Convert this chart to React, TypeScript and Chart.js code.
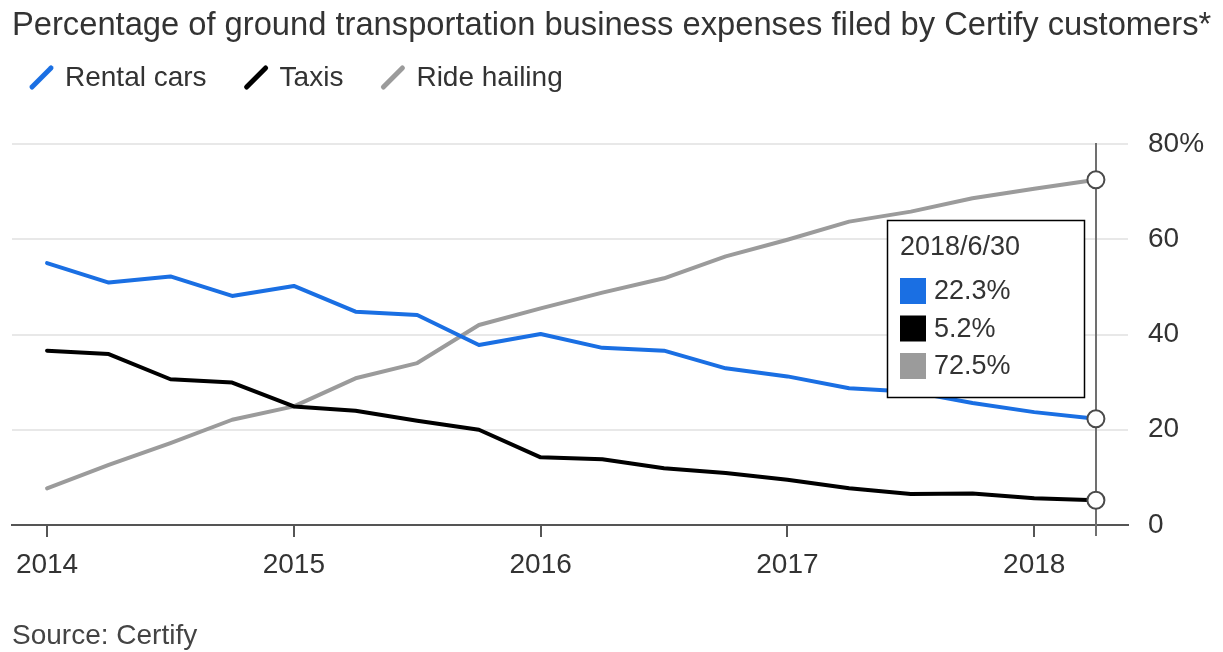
import React, { useEffect, useRef } from 'react';
import { Chart, registerables } from 'chart.js';

Chart.register(...registerables);

// ---------- data ----------
const TITLE = 'Percentage of ground transportation business expenses filed by Certify customers*';
const SOURCE = 'Source: Certify';
const SERIES_NAMES = ['Rental cars', 'Taxis', 'Ride hailing'];
// quarterly observations, expressed as decimal years
const X_VALUES = [
  2014, 2014.25, 2014.5, 2014.75,
  2015, 2015.25, 2015.5, 2015.75,
  2016, 2016.25, 2016.5, 2016.75,
  2017, 2017.25, 2017.5, 2017.75,
  2018, 2018.25,
];
const RENTAL_CARS = [55.0, 50.9, 52.2, 48.1, 50.2, 44.8, 44.1, 37.8, 40.1, 37.2, 36.6, 32.9, 31.2, 28.7, 28.0, 25.6, 23.7, 22.3];
const TAXIS = [36.6, 35.9, 30.6, 29.9, 24.9, 24.0, 21.9, 20.0, 14.2, 13.8, 11.9, 10.9, 9.5, 7.7, 6.5, 6.6, 5.6, 5.2];
const RIDE_HAILING = [7.7, 12.6, 17.2, 22.1, 24.9, 30.8, 34.0, 42.0, 45.5, 48.8, 51.8, 56.4, 59.9, 63.7, 65.8, 68.6, 70.6, 72.5];
const YEAR_TICKS = [2014, 2015, 2016, 2017, 2018];
const Y_TICKS = [0, 20, 40, 60, 80];
const TOOLTIP_DATE = '2018/6/30';

// ---------- styles ----------
const COLORS = ['#1a6fe3', '#000000', '#9b9b9b'];
const FONT = '"Liberation Sans", Arial, sans-serif';
const TEXT = '#333333';

const overlayPlugin = {
  id: 'overlay',
  beforeDatasetsDraw(chart: any) {
    const { ctx, chartArea, scales } = chart;
    const x = Math.round(scales.x.getPixelForValue(X_VALUES[X_VALUES.length - 1]));
    ctx.save();
    ctx.strokeStyle = '#707070';
    ctx.lineWidth = 2;
    ctx.beginPath();
    ctx.moveTo(x, chartArea.top - 1);
    ctx.lineTo(x, chartArea.bottom + 11);
    ctx.stroke();
    ctx.restore();
  },
  afterDatasetsDraw(chart: any) {
    const { ctx, chartArea, scales } = chart;
    const last = X_VALUES.length - 1;
    const cx = scales.x.getPixelForValue(X_VALUES[last]);
    // tooltip box
    const w = 197;
    const h = 177;
    const right = Math.round(cx - 12);
    const left = right - w;
    const top = Math.round(chartArea.top + 76);
    ctx.save();
    ctx.fillStyle = '#ffffff';
    ctx.fillRect(left, top, w, h);
    ctx.strokeStyle = '#000000';
    ctx.lineWidth = 1.5;
    ctx.strokeRect(left + 0.5, top + 0.5, w, h);
    ctx.fillStyle = TEXT;
    ctx.font = `27px ${FONT}`;
    ctx.textBaseline = 'middle';
    ctx.textAlign = 'left';
    ctx.fillText(TOOLTIP_DATE, left + 13, top + 28);
    const vals = [RENTAL_CARS[last], TAXIS[last], RIDE_HAILING[last]];
    vals.forEach((v, i) => {
      const rowTop = top + 58 + i * 37.5;
      ctx.fillStyle = COLORS[i];
      ctx.fillRect(left + 13, rowTop, 26, 26);
      ctx.fillStyle = TEXT;
      ctx.fillText(v.toFixed(1) + '%', left + 47, rowTop + 14);
    });
    ctx.restore();
  },
  afterDraw(chart: any) {
    const { ctx } = chart;
    ctx.save();
    // title
    ctx.fillStyle = TEXT;
    ctx.font = `32.7px ${FONT}`;
    ctx.textBaseline = 'alphabetic';
    ctx.textAlign = 'left';
    ctx.fillText(TITLE, 12, 35);
    // legend
    ctx.font = `28px ${FONT}`;
    let x = 30;
    SERIES_NAMES.forEach((name, i) => {
      ctx.strokeStyle = COLORS[i];
      ctx.lineWidth = 5;
      ctx.lineCap = 'round';
      ctx.beginPath();
      ctx.moveTo(x + 2, 87);
      ctx.lineTo(x + 21, 68);
      ctx.stroke();
      ctx.fillStyle = TEXT;
      ctx.fillText(name, x + 35, 86);
      x = x + 35 + ctx.measureText(name).width + 38;
    });
    // source
    ctx.fillStyle = '#444444';
    ctx.font = `28px ${FONT}`;
    ctx.fillText(SOURCE, 12, 644);
    ctx.restore();
  },
};

export default function App() {
  const ref = useRef<HTMLCanvasElement | null>(null);

  useEffect(() => {
    if (!ref.current) return;
    const last = X_VALUES.length - 1;
    const series = [RENTAL_CARS, TAXIS, RIDE_HAILING];
    const chart = new Chart(ref.current, {
      type: 'line',
      data: {
        datasets: series.map((s, i) => ({
          label: SERIES_NAMES[i],
          data: X_VALUES.map((xv, j) => ({ x: xv, y: s[j] })),
          borderColor: COLORS[i],
          backgroundColor: COLORS[i],
          borderWidth: 4,
          borderJoinStyle: 'round',
          borderCapStyle: 'round',
          tension: 0,
          pointRadius: (c: any) => (c.dataIndex === last ? 8.5 : 0),
          pointHoverRadius: (c: any) => (c.dataIndex === last ? 8.5 : 0),
          pointBackgroundColor: '#ffffff',
          pointBorderColor: '#4a4a4a',
          pointBorderWidth: 2,
        })),
      },
      options: {
        animation: false,
        responsive: false,
        maintainAspectRatio: false,
        devicePixelRatio: 1,
        events: [],
        layout: { padding: { top: 144, left: 12, right: 0, bottom: 0 } },
        plugins: {
          legend: { display: false },
          tooltip: { enabled: false },
          title: { display: false },
        },
        scales: {
          x: {
            type: 'linear',
            min: 2013.858,
            max: 2018.38,
            afterBuildTicks: (s: any) => {
              s.ticks = YEAR_TICKS.map((v) => ({ value: v }));
            },
            afterFit: (s: any) => {
              s.height = 127;
            },
            ticks: {
              autoSkip: false,
              maxRotation: 0,
              padding: 11,
              color: TEXT,
              font: { family: FONT, size: 28 },
              callback: (v: any) => String(v),
            },
            grid: {
              display: true,
              drawOnChartArea: false,
              drawTicks: true,
              tickLength: 12,
              color: '#555555',
              lineWidth: 2,
            },
            border: { display: true, color: '#555555', width: 2 },
          },
          y: {
            position: 'right',
            min: 0,
            max: 80,
            afterBuildTicks: (s: any) => {
              s.ticks = Y_TICKS.map((v) => ({ value: v }));
            },
            afterFit: (s: any) => {
              s.width = 95;
            },
            ticks: {
              padding: 20,
              color: TEXT,
              font: { family: FONT, size: 28 },
              callback: (v: any) => (v === 80 ? '80%' : String(v)),
            },
            grid: {
              drawTicks: false,
              color: (c: any) => (c.tick && c.tick.value === 0 ? 'rgba(0,0,0,0)' : '#e8e8e8'),
              lineWidth: 2,
            },
            border: { display: false },
          },
        },
      },
      plugins: [overlayPlugin],
    } as any);
    return () => chart.destroy();
  }, []);

  return (
    <div style={{ position: 'fixed', left: 0, top: 0, width: 1223, height: 652, background: '#ffffff' }}>
      <canvas ref={ref} width={1223} height={652} style={{ display: 'block' }} />
    </div>
  );
}
